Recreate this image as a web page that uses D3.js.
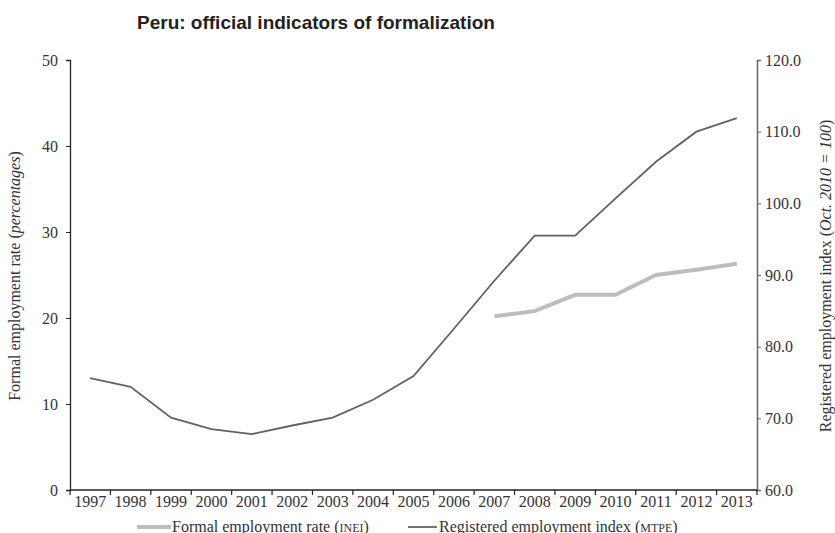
<!DOCTYPE html>
<html>
<head>
<meta charset="utf-8">
<script src="https://cdn.jsdelivr.net/npm/d3@7"></script>
<style>
  body { margin: 0; background: #fff; overflow: hidden; }
  text { font-family: "Liberation Serif", "Times New Roman", serif; fill: #333; }
</style>
</head>
<body>
<script>
// years on the x axis
var years = ["1997","1998","1999","2000","2001","2002","2003","2004","2005","2006","2007","2008","2009","2010","2011","2012","2013"];

// Registered employment index (MTPE), right axis
var registeredIndex = [75.6, 74.4, 70.1, 68.5, 67.8, 69.0, 70.1, 72.6, 75.9, 82.5, 89.2, 95.5, 95.5, 100.7, 105.8, 110.0, 111.9];

// Formal employment rate (INEI), left axis, only from 2007
var formalYears = ["2007","2008","2009","2010","2011","2012","2013"];
var formalRate = [20.2, 20.8, 22.7, 22.7, 25.0, 25.6, 26.3];

var leftTicks = [0, 10, 20, 30, 40, 50];
var rightTicks = [60, 70, 80, 90, 100, 110, 120];

var W = 835, H = 533;
var plotLeft = 70, plotRight = 757, plotTop = 60, plotBottom = 490;

var svg = d3.select("body").append("svg")
    .attr("width", W)
    .attr("height", H);

var x = d3.scaleBand().domain(years).range([plotLeft, plotRight]).padding(0);
var yL = d3.scaleLinear().domain([0, 50]).range([plotBottom, plotTop]);
var yR = d3.scaleLinear().domain([60, 120]).range([plotBottom, plotTop]);

// title
svg.append("text")
    .attr("x", 137)
    .attr("y", 29)
    .style("font-family", "'Liberation Sans', Arial, sans-serif")
    .style("font-weight", "bold")
    .style("font-size", "19px")
    .style("fill", "#222")
    .text("Peru: official indicators of formalization");

// left axis
var gL = svg.append("g")
    .attr("transform", "translate(" + plotLeft + ",0)")
    .call(d3.axisLeft(yL).tickValues(leftTicks).tickSize(4).tickPadding(8).tickFormat(d3.format("d")));
gL.select(".domain").attr("stroke", "#222").attr("stroke-width", 1.3);
gL.selectAll(".tick line").attr("stroke", "#222");
gL.selectAll(".tick text")
    .style("font-family", "'Liberation Serif', serif")
    .style("font-size", "16px")
    .style("fill", "#333");

// right axis
var gR = svg.append("g")
    .attr("transform", "translate(" + plotRight + ",0)")
    .call(d3.axisRight(yR).tickValues(rightTicks).tickSize(4).tickPadding(4).tickFormat(d3.format(".1f")));
gR.select(".domain").attr("stroke", "#666").attr("stroke-width", 1.5);
gR.selectAll(".tick line").attr("stroke", "#666");
gR.selectAll(".tick text")
    .style("font-family", "'Liberation Serif', serif")
    .style("font-size", "16px")
    .style("fill", "#333");

// x axis: labels centered in bands, ticks at the band boundaries
var gX = svg.append("g")
    .attr("transform", "translate(0," + plotBottom + ")")
    .call(d3.axisBottom(x).tickSize(0).tickPadding(6));
gX.select(".domain").remove();
gX.selectAll(".tick text")
    .style("font-family", "'Liberation Serif', serif")
    .style("font-size", "16px")
    .style("fill", "#333");

svg.append("line")
    .attr("x1", plotLeft).attr("x2", plotRight)
    .attr("y1", plotBottom).attr("y2", plotBottom)
    .attr("stroke", "#222").attr("stroke-width", 1.3);

var bounds = years.map(function(d) { return x(d); }).concat([x.range()[1]]);
svg.selectAll(".xtick")
    .data(bounds)
    .enter().append("line")
    .attr("class", "xtick")
    .attr("x1", function(d) { return d; })
    .attr("x2", function(d) { return d; })
    .attr("y1", plotBottom)
    .attr("y2", plotBottom + 5)
    .attr("stroke", "#222")
    .attr("stroke-width", 1.2);

// axis titles
var lt = svg.append("text")
    .attr("transform", "translate(20,276) rotate(-90)")
    .attr("text-anchor", "middle")
    .style("font-size", "16px");
lt.append("tspan").text("Formal employment rate (");
lt.append("tspan").style("font-style", "italic").text("percentages");
lt.append("tspan").text(")");

var rt = svg.append("text")
    .attr("transform", "translate(831,276) rotate(-90)")
    .attr("text-anchor", "middle")
    .style("font-size", "16px");
rt.append("tspan").text("Registered employment index (");
rt.append("tspan").style("font-style", "italic").text("Oct. 2010 = 100");
rt.append("tspan").text(")");

// lines
var cx = function(d) { return x(d) + x.bandwidth() / 2; };

var regData = years.map(function(d, i) { return { year: d, v: registeredIndex[i] }; });
var formData = formalYears.map(function(d, i) { return { year: d, v: formalRate[i] }; });

svg.append("path")
    .attr("d", d3.line().x(function(d) { return cx(d.year); }).y(function(d) { return yL(d.v); })(formData))
    .attr("fill", "none")
    .attr("stroke", "#bdbdbd")
    .attr("stroke-width", 4);

svg.append("path")
    .attr("d", d3.line().x(function(d) { return cx(d.year); }).y(function(d) { return yR(d.v); })(regData))
    .attr("fill", "none")
    .attr("stroke", "#626262")
    .attr("stroke-width", 1.8);

// legend
var legendY = 527;
svg.append("line")
    .attr("x1", 137).attr("x2", 171)
    .attr("y1", legendY).attr("y2", legendY)
    .attr("stroke", "#bdbdbd").attr("stroke-width", 4);
var l1 = svg.append("text")
    .attr("x", 172).attr("y", 532)
    .style("font-size", "16px");
l1.append("tspan").text("Formal employment rate (");
l1.append("tspan").style("font-size", "12px").text("INEI");
l1.append("tspan").text(")");

svg.append("line")
    .attr("x1", 408).attr("x2", 437)
    .attr("y1", legendY).attr("y2", legendY)
    .attr("stroke", "#626262").attr("stroke-width", 1.8);
var l2 = svg.append("text")
    .attr("x", 439).attr("y", 532)
    .style("font-size", "16px");
l2.append("tspan").text("Registered employment index (");
l2.append("tspan").style("font-size", "12px").text("MTPE");
l2.append("tspan").text(")");
</script>
</body>
</html>
